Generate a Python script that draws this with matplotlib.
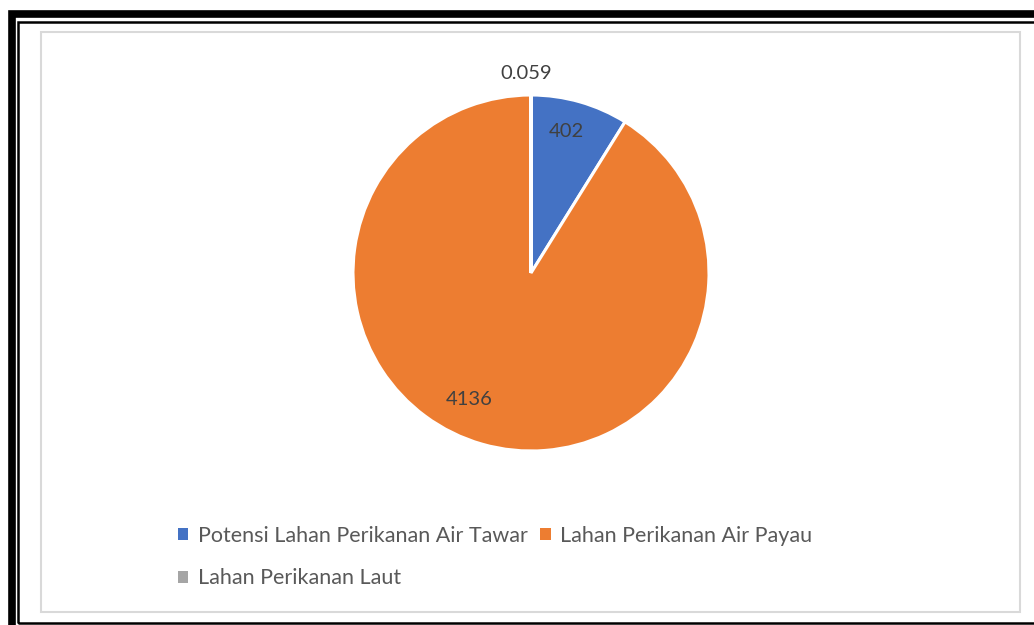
import numpy as np
import matplotlib.pyplot as plt
from matplotlib.patches import Rectangle

# data
categories = ["Potensi Lahan Perikanan Air Tawar", "Lahan Perikanan Air Payau", "Lahan Perikanan Laut"]
values = [402, 4136, 0.059]
value_labels = ["402", "4136", "0.059"]
colors = ["#4472C4", "#ED7D31", "#A5A5A5"]

W, H = 1034, 625
fig = plt.figure(figsize=(W / 100, H / 100), dpi=100)
plt.rcParams['font.family'] = ['Lato', 'DejaVu Sans']


def px_rect(x0, y0, x1, y1, **kw):
    # rectangle given in pixel coords (y down)
    r = Rectangle((x0 / W, 1 - y1 / H), (x1 - x0) / W, (y1 - y0) / H,
                  transform=fig.transFigure, fill=False, **kw)
    fig.patches.append(r)


# frame: thick outer, thin inner black, light grey chart area
px_rect(11.5, 14, W + 20, H + 20, lw=5.5, edgecolor="black")
px_rect(18, 21.5, W + 20, 623, lw=1.8, edgecolor="black")
px_rect(41, 32, 1020, 612, lw=1.5, edgecolor="#D9D9D9")

# pie axes
cx, cy, R = 531, 273, 178
ax = fig.add_axes([(cx - R) / W, 1 - (cy + R) / H, 2 * R / W, 2 * R / H])
wedges, _ = ax.pie(values, colors=colors, startangle=90, counterclock=False,
                   radius=1, wedgeprops=dict(edgecolor="white", linewidth=2.2))
ax.set_xlim(-1, 1)
ax.set_ylim(-1, 1)
ax.set_aspect("auto")
ax.axis("off")

# data labels placed along each wedge
label_dist = [0.82, 0.79, 1.12]
angle_shift = [2, -10, 1.5]
for w, txt, d, sh in zip(wedges, value_labels, label_dist, angle_shift):
    ang = np.deg2rad((w.theta1 + w.theta2) / 2 + sh)
    ax.text(d * np.cos(ang), d * np.sin(ang), txt, ha="center", va="center",
            fontsize=14.5, color="#404040", clip_on=False)

# legend (row-major order: first two on one row, third below)
handles = [wedges[0], wedges[2], wedges[1]]
labels = [categories[0], categories[2], categories[1]]
leg = fig.legend(handles, labels, ncol=2, loc="center",
                 bbox_to_anchor=(495 / W, 1 - 557 / H), frameon=False,
                 fontsize=15.5, labelcolor="#595959", handlelength=0.5,
                 handleheight=0.5, handletextpad=0.45, columnspacing=0.55,
                 labelspacing=1.05)
for h in leg.legend_handles:
    h.set_edgecolor("none")

fig.savefig("out.png", dpi=100, facecolor="white")
